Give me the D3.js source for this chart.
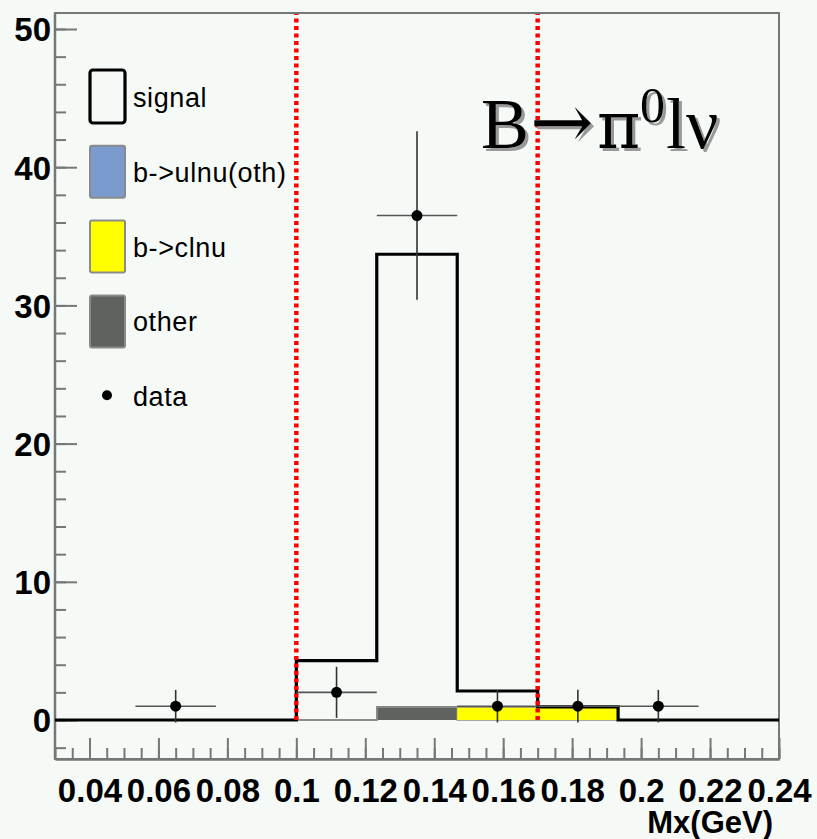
<!DOCTYPE html>
<html>
<head>
<meta charset="utf-8">
<script src="https://cdn.jsdelivr.net/npm/d3@7"></script>
<style>
  body { margin: 0; background: #f5faf7; }
  svg { display: block; }
</style>
</head>
<body>
<script>
// bin edges of Mx (GeV), 9 bins from 0.03 to 0.24
var binEdges = [0.03, 0.05333, 0.07667, 0.1, 0.12333, 0.14667, 0.17, 0.19333, 0.21667, 0.24];
// stacked components (bottom to top)
var otherVals  = [0, 0, 0, 0, 0.95, 0, 0, 0, 0];
var clnuVals   = [0, 0, 0, 0, 0, 0.95, 0.95, 0, 0];
var ulnuVals   = [0, 0, 0, 0, 0, 0, 0, 0, 0];
var signalVals = [0, 0, 0, 4.3, 32.75, 1.15, 0, 0, 0];
// data points
var dataVals = [0, 1, 0, 2, 36.5, 1, 1, 1, 0];
var dataErrs = [0, 1.18, 0, 1.85, 6.1, 1.18, 1.18, 1.18, 0];
// signal window cuts
var cutLines = [0.1, 0.17];
// axes
var xMajor = [0.04, 0.06, 0.08, 0.1, 0.12, 0.14, 0.16, 0.18, 0.2, 0.22, 0.24];
var xTickLabels = ["0.04", "0.06", "0.08", "0.1", "0.12", "0.14", "0.16", "0.18", "0.2", "0.22", "0.24"];
var yMajor = [0, 10, 20, 30, 40, 50];
var yTickLabels = ["0", "10", "20", "30", "40", "50"];
var legendNames = ["signal", "b->ulnu(oth)", "b->clnu", "other", "data"];
var legendColors = ["none", "#7b9bcf", "#ffff00", "#5f635f", "#000"];

var width = 817, height = 839;
var padL = 55, padR = 779, padT = 13, padB = 759;

var x = d3.scaleLinear().domain([0.03, 0.24]).range([padL, padR]);
var y = d3.scaleLinear().domain([0, 50]).range([720, 29]);

var svg = d3.select("body").append("svg")
    .attr("width", width)
    .attr("height", height)
    .style("background", "#f5faf7");

var axisFont = "bold 33px 'Liberation Sans', Arial, sans-serif";

// frame
svg.append("rect")
    .attr("x", padL).attr("y", padT)
    .attr("width", padR - padL).attr("height", padB - padT)
    .attr("fill", "none").attr("stroke", "#777").attr("stroke-width", 2);

// x axis (minor and major ticks in separate groups)
var xMinor = d3.range(0.03, 0.2401, 0.005);
svg.append("g").attr("transform", "translate(0," + padB + ")")
    .call(d3.axisBottom(x).tickValues(xMinor).tickSize(-11).tickSizeOuter(0).tickFormat(""));
var gx = svg.append("g").attr("transform", "translate(0," + padB + ")")
    .call(d3.axisBottom(x).tickValues(xMajor).tickSize(-21).tickSizeOuter(0)
      .tickFormat(function(d, i) { return xTickLabels[i]; }));
svg.selectAll(".tick line").attr("stroke", "#777").attr("stroke-width", 2);
svg.selectAll(".domain").attr("stroke", "#777").attr("stroke-width", 2);
gx.selectAll("text")
    .attr("y", 43).attr("dy", 0)
    .attr("fill", "#000")
    .style("font", axisFont);

// y axis
var yMinor = d3.range(-2, 51, 2);
var gyMinor = svg.append("g").attr("transform", "translate(" + padL + ",0)")
    .call(d3.axisLeft(y).tickValues(yMinor).tickSize(-11).tickFormat(""));
var gy = svg.append("g").attr("transform", "translate(" + padL + ",0)")
    .call(d3.axisLeft(y).tickValues(yMajor).tickSize(-22)
      .tickFormat(function(d, i) { return yTickLabels[i]; }));
gyMinor.selectAll(".domain").remove();
gy.selectAll(".domain").remove();
gyMinor.selectAll("line").attr("stroke", "#777").attr("stroke-width", 2);
gy.selectAll("line").attr("stroke", "#777").attr("stroke-width", 2);
gy.selectAll("text")
    .attr("x", -4).attr("dy", "0.36em")
    .attr("fill", "#000")
    .style("font", axisFont);
svg.append("line")
    .attr("x1", padL).attr("x2", padL).attr("y1", padT).attr("y2", padB)
    .attr("stroke", "#777").attr("stroke-width", 2.5);

svg.append("text")
    .attr("x", 773).attr("y", 833)
    .attr("text-anchor", "end")
    .style("font", "bold 31px 'Liberation Sans', Arial, sans-serif")
    .text("Mx(GeV)");

function stepPts(vals, base) {
  var pts = [];
  vals.forEach(function(v, i) {
    var b = base ? base[i] : 0;
    pts.push([binEdges[i], v + b]);
    pts.push([binEdges[i + 1], v + b]);
  });
  return pts;
}

// stack
var layers = [
  { vals: otherVals, color: legendColors[3] },
  { vals: clnuVals, color: legendColors[2] },
  { vals: ulnuVals, color: legendColors[1] }
];
var area = d3.area()
    .x(function(d) { return x(d[0]); })
    .y0(function(d) { return y(d[2]); })
    .y1(function(d) { return y(d[1]); });
var line = d3.line()
    .x(function(d) { return x(d[0]); })
    .y(function(d) { return y(d[1]); });

var base = signalVals.map(function() { return 0; });
layers.forEach(function(l) {
  var pts = [];
  l.vals.forEach(function(v, i) {
    pts.push([binEdges[i], base[i] + v, base[i]]);
    pts.push([binEdges[i + 1], base[i] + v, base[i]]);
  });
  svg.append("path").attr("d", area(pts)).attr("fill", l.color).attr("stroke", "none");
  svg.append("path").attr("d", line(pts)).attr("fill", "none")
      .attr("stroke", "#8a8a8a").attr("stroke-width", 1.5);
  base = base.map(function(b, i) { return b + l.vals[i]; });
});

// signal on top of stack
var sigPts = stepPts(signalVals, base);
svg.append("path").attr("d", line(sigPts))
    .attr("fill", "none").attr("stroke", "#000").attr("stroke-width", 3.2);

// cut lines
svg.selectAll(".cut").data(cutLines).enter().append("line")
    .attr("class", "cut")
    .attr("x1", function(d) { return x(d); }).attr("x2", function(d) { return x(d); })
    .attr("y1", y(0)).attr("y2", padT + 1)
    .attr("stroke", "#ff0000").attr("stroke-width", 4.5)
    .attr("stroke-dasharray", "4,3.5");

// data points with errors
var pts = dataVals.map(function(v, i) {
  return { x: (binEdges[i] + binEdges[i + 1]) / 2, x0: binEdges[i], x1: binEdges[i + 1], v: v, e: dataErrs[i] };
}).filter(function(d) { return d.v > 0; });
var gp = svg.append("g");
gp.selectAll(".ex").data(pts).enter().append("line")
    .attr("x1", function(d) { return x(d.x0); }).attr("x2", function(d) { return x(d.x1); })
    .attr("y1", function(d) { return y(d.v); }).attr("y2", function(d) { return y(d.v); })
    .attr("stroke", "#555").attr("stroke-width", 1.6);
gp.selectAll(".ey").data(pts).enter().append("line")
    .attr("x1", function(d) { return x(d.x); }).attr("x2", function(d) { return x(d.x); })
    .attr("y1", function(d) { return y(d.v + d.e); }).attr("y2", function(d) { return y(d.v - d.e); })
    .attr("stroke", "#333").attr("stroke-width", 1.6);
gp.selectAll("circle").data(pts).enter().append("circle")
    .attr("cx", function(d) { return x(d.x); }).attr("cy", function(d) { return y(d.v); })
    .attr("r", 5.5).attr("fill", "#000");

// legend
var lg = svg.append("g");
legendNames.forEach(function(name, i) {
  var cy = 97 + i * 74.8;
  if (i === 0) {
    lg.append("rect").attr("x", 90).attr("y", cy - 27).attr("width", 35).attr("height", 53)
        .attr("rx", 3).attr("fill", "none").attr("stroke", "#000").attr("stroke-width", 3.2);
  } else if (i < 4) {
    lg.append("rect").attr("x", 90).attr("y", cy - 26).attr("width", 35).attr("height", 52)
        .attr("rx", 2).attr("fill", legendColors[i]).attr("stroke", "#8a8a8a").attr("stroke-width", 2);
  } else {
    lg.append("circle").attr("cx", 107).attr("cy", cy - 1).attr("r", 5).attr("fill", "#000");
  }
  lg.append("text")
      .attr("x", 133).attr("y", cy + 10)
      .style("font", "27px 'Liberation Sans', Arial, sans-serif")
      .style("letter-spacing", "0.6px")
      .text(name);
});

// title, one text with a grey drop shadow
var defs = svg.append("defs");
defs.append("filter").attr("id", "shadow")
    .attr("x", "-10%").attr("y", "-10%").attr("width", "130%").attr("height", "130%")
  .append("feDropShadow")
    .attr("dx", 3).attr("dy", 3).attr("stdDeviation", 0.6)
    .attr("flood-color", "#999").attr("flood-opacity", 1);

var t = svg.append("text")
    .attr("y", 148)
    .attr("filter", "url(#shadow)")
    .style("font", "72px 'Liberation Serif', 'Times New Roman', serif");
t.append("tspan").attr("x", 481).text("B");
t.append("tspan").attr("x", 530)
    .style("font-family", "'DejaVu Serif', serif").style("font-size", "76px")
    .text("\u2192");
t.append("tspan").attr("x", 597)
    .style("font-family", "'DejaVu Serif', serif").style("font-size", "66px")
    .text("\u03c0");
t.append("tspan").attr("x", 640).attr("dy", -26).style("font-size", "50px").text("0");
t.append("tspan").attr("x", 666).attr("dy", 26).text("l\u03bd");
</script>
</body>
</html>
